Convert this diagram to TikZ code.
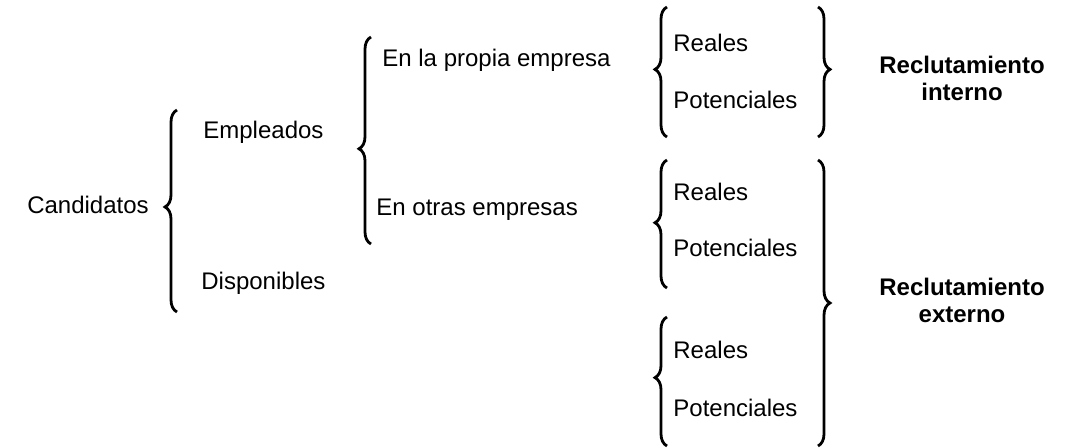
\documentclass[tikz,border=0pt]{standalone}
\usepackage{fontspec}
\setmainfont{Liberation Sans}
\usetikzlibrary{decorations.pathreplacing}

\begin{document}
\begin{tikzpicture}[x=0.5pt,y=-0.5pt,
    every node/.style={font=\fontsize{12}{13.5}\selectfont,inner sep=0pt},
    lbl/.style={anchor=west},
    result/.style={align=center,font=\fontsize{12}{13.5}\selectfont\bfseries},
    brc/.style={decorate,decoration={brace,amplitude=6pt,aspect=#1},line width=1.4pt}]
    \useasboundingbox (0,0) rectangle (1069,448);
    % labels
    \node (cand) at (88,205) {Candidatos};
    \node[lbl] (empl) at (203,132) {Empleados};
    \node[lbl] (disp) at (201,283) {Disponibles};
    \node[lbl] (propia) at (382,60) {En la propia empresa};
    \node[lbl] (otras) at (376,210) {En otras empresas};
    \node[lbl] (realA) at (673,43) {Reales};
    \node[lbl] (potA) at (673,100) {Potenciales};
    \node[lbl] (realB) at (673,192) {Reales};
    \node[lbl] (potB) at (673,248) {Potenciales};
    \node[lbl] (realC) at (673,350) {Reales};
    \node[lbl] (potC) at (673,408) {Potenciales};
    \node[result] (interno) at (962,78) {Reclutamiento\\interno};
    \node[result] (externo) at (962,300) {Reclutamiento\\externo};
    % brace ends
    \coordinate (b1s) at (177,312); \coordinate (b1e) at (177,110);
    \coordinate (b2s) at (371,244); \coordinate (b2e) at (371,37);
    \coordinate (b3s) at (667,137); \coordinate (b3e) at (667,7);
    \coordinate (b4s) at (667,288); \coordinate (b4e) at (667,160);
    \coordinate (b5s) at (667,446); \coordinate (b5e) at (667,317);
    \coordinate (r1s) at (818,7);   \coordinate (r1e) at (818,137);
    \coordinate (r2s) at (818,160); \coordinate (r2e) at (818,446);
    % braces
    \draw[brc=0.52] (b1s)--(b1e);
    \draw[brc=0.46] (b2s)--(b2e);
    \draw[brc=0.52] (b3s)--(b3e);
    \draw[brc=0.51] (b4s)--(b4e);
    \draw[brc=0.53] (b5s)--(b5e);
    \draw[brc=0.48] (r1s)--(r1e);
    \draw[brc=0.50] (r2s)--(r2e);
\end{tikzpicture}
\end{document}
